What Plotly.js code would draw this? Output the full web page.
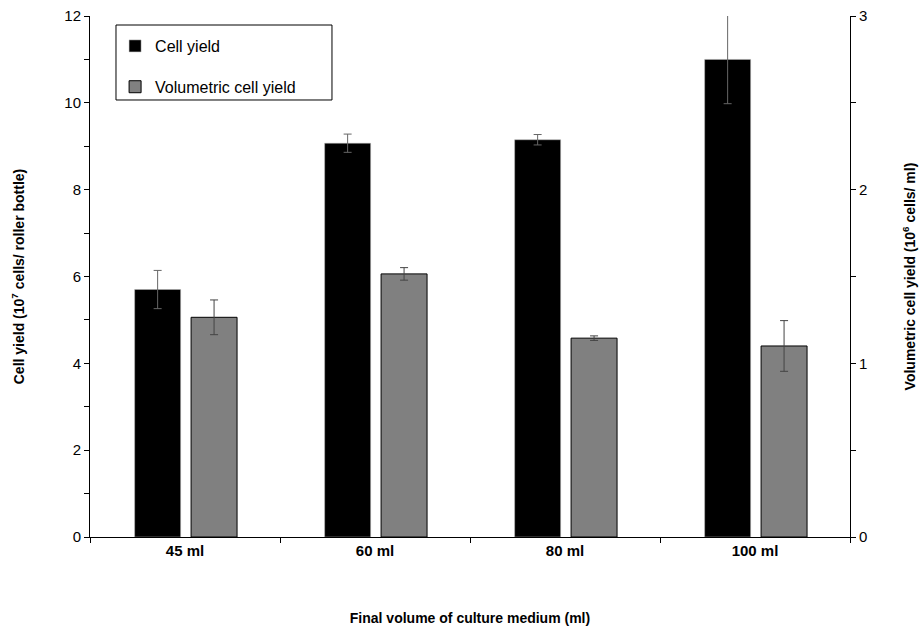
<!DOCTYPE html>
<html>
<head>
<meta charset="utf-8">
<script src="https://cdn.plot.ly/plotly-3.0.1.min.js"></script>
<style>html,body{margin:0;padding:0;background:#fff;}#chart{width:924px;height:628px;}</style>
</head>
<body>
<div id="chart"></div>
<script>
const categories = ['45 ml', '60 ml', '80 ml', '100 ml'];
const cellYield = [5.70, 9.07, 9.15, 11.0];
const cellYieldErr = [0.44, 0.21, 0.12, 1.02];
const volYield = [1.265, 1.515, 1.145, 1.10];
const volYieldErr = [0.10, 0.036, 0.013, 0.146];

const FONT = 'Liberation Sans, Arial, sans-serif';

const traces = [
  {
    type: 'bar', name: 'Cell yield', x: categories, y: cellYield,
    yaxis: 'y', width: 0.242, offset: -0.265,
    marker: {color: '#000000', line: {color: '#bbbbbb', width: 0.5}},
    error_y: {type: 'data', array: cellYieldErr, visible: true, color: '#666666', thickness: 1, width: 4},
    legendgroup: 'a'
  },
  {
    type: 'bar', name: 'Volumetric cell yield', x: categories, y: volYield,
    yaxis: 'y2', width: 0.242, offset: 0.032,
    marker: {color: '#808080', line: {color: '#000000', width: 1}},
    error_y: {type: 'data', array: volYieldErr, visible: true, color: '#444444', thickness: 1, width: 4},
    legendgroup: 'b'
  }
];

const layout = {
  width: 924, height: 628,
  margin: {l: 90, r: 74, t: 16, b: 91},
  paper_bgcolor: '#ffffff', plot_bgcolor: '#ffffff',
  font: {family: FONT, color: '#000000', size: 15},
  barmode: 'overlay',
  showlegend: true,
  legend: {
    x: 0.033, y: 0.975, xanchor: 'left', yanchor: 'top',
    bgcolor: 'rgba(0,0,0,0)', borderwidth: 0,
    traceorder: 'grouped', tracegroupgap: 17,
    font: {family: FONT, size: 16, color: '#000000'},
    itemwidth: 30
  },
  shapes: [{
    type: 'rect', xref: 'paper', yref: 'paper',
    x0: 0.0342, x1: 0.3184, y0: 0.8388, y1: 0.9827,
    line: {color: '#000000', width: 1}
  }],
  xaxis: {
    type: 'category', range: [-0.5, 3.5],
    showline: true, linecolor: '#000000', linewidth: 1,
    ticks: 'outside', ticklen: 5, tickcolor: '#000000', tickson: 'boundaries',
    tickfont: {family: FONT, size: 15, color: '#000000', weight: 'bold'},
    showgrid: false, zeroline: false,
    title: {text: '<b>Final volume of culture medium (ml)</b>', font: {family: FONT, size: 14, color: '#000000'}, standoff: 55}
  },
  yaxis: {
    range: [0, 12], tick0: 0, dtick: 2,
    showline: true, linecolor: '#000000', linewidth: 1,
    ticks: 'outside', ticklen: 5, tickcolor: '#000000',
    minor: {dtick: 1, ticks: 'outside', ticklen: 5, tickcolor: '#000000', showgrid: false},
    tickfont: {family: FONT, size: 15, color: '#000000'},
    showgrid: false, zeroline: false,
    title: {text: '<b>Cell yield (10<sup>7</sup> cells/ roller bottle)</b>', font: {family: FONT, size: 14, color: '#000000'}, standoff: 36}
  },
  yaxis2: {
    overlaying: 'y', side: 'right', range: [0, 3], tick0: 0, dtick: 1,
    showline: true, linecolor: '#000000', linewidth: 1,
    ticks: 'outside', ticklen: 5, tickcolor: '#000000',
    minor: {dtick: 0.5, ticks: 'outside', ticklen: 5, tickcolor: '#000000', showgrid: false},
    tickfont: {family: FONT, size: 15, color: '#000000'},
    showgrid: false, zeroline: false,
    title: {text: '<b>Volumetric cell yield (10<sup>6</sup> cells/ ml)</b>', font: {family: FONT, size: 14, color: '#000000'}, standoff: 38}
  }
};

Plotly.newPlot('chart', traces, layout, {displayModeBar: false, staticPlot: true});
</script>
</body>
</html>
